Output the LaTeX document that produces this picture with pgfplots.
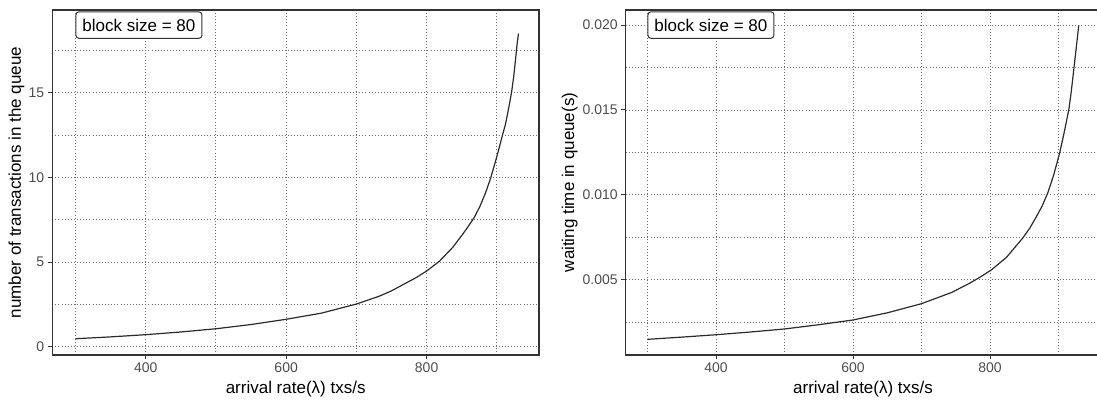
\documentclass[border=0pt]{standalone}
\usepackage{pgfplots}
\pgfplotsset{compat=1.18}
\usepackage{fontspec}
\setmainfont{Liberation Sans}
\definecolor{tickgray}{HTML}{4D4D4D}
\definecolor{framegray}{HTML}{333333}
\definecolor{gridgray}{HTML}{6E6E6E}
\definecolor{curvegray}{HTML}{2B2B2B}

\pgfplotsset{
  ggstyle/.style={
    scale only axis,
    height=345pt,
    axis line style={framegray, line width=1.3pt},
    tick align=outside,
    tick pos=left,
    major tick length=4.5pt,
    minor tick length=0pt,
    tick style={framegray, line width=1pt},
    grid=both,
    major grid style={gridgray, line width=0.9pt, dash pattern=on 0.9pt off 2.2pt},
    minor grid style={gridgray, line width=0.9pt, dash pattern=on 0.9pt off 2.2pt},
    xticklabel style={font=\fontsize{14}{14}\selectfont, text=tickgray},
    yticklabel style={font=\fontsize{14}{14}\selectfont, text=tickgray},
    /pgf/number format/assume math mode=true,
    every axis x label/.style={at={(rel axis cs:0.5,0)}, anchor=center, yshift=-34pt, font=\fontsize{17}{17}\selectfont},
    xtick={400,600,800},
    minor xtick={300,500,700,900},
    xlabel={arrival rate(λ) txs/s},
  },
}
\tikzset{
  boxlabel/.style={draw=framegray, line width=1pt, rounded corners=3pt, fill=white,
    anchor=west, inner xsep=6.5pt, minimum height=26.5pt, font=\fontsize{17}{17}\selectfont},
}

\begin{document}
\begin{tikzpicture}
\path[use as bounding box] (0,0) rectangle (1097pt,403pt);
\begin{scope}
\clip (0,0) rectangle (1097pt,403pt);

% left panel
\begin{axis}[ggstyle,
  at={(52.3pt,48pt)}, anchor=south west,
  width=486.7pt,
  xmin=267, xmax=960,
  ymin=-0.49, ymax=19.89,
  ytick={0,5,10,15},
  minor ytick={2.5,7.5,12.5,17.5},
  every axis y label/.style={at={(rel axis cs:0,0.5)}, xshift=-35.8pt, rotate=90, anchor=center, font=\fontsize{17}{17}\selectfont},
  ylabel={number of transactions in the queue},
]
\addplot[curvegray, line width=1.2pt] coordinates {
(300,0.47)(350,0.58)(400,0.71)(450,0.87)(500,1.06)(550,1.31)(600,1.62)(650,1.98)
(700,2.52)(733,2.99)(750,3.30)(767,3.68)(785,4.08)(800,4.47)(818,5.04)(837,5.86)
(852,6.68)(860,7.15)(868,7.65)(876,8.30)(884,9.10)(891.5,10.0)(898.6,11.03)
(903,11.7)(908,12.5)(912,13.1)(915,13.7)(918,14.35)(921,15.05)(924,15.95)
(926.9,17.1)(929,17.95)(930.8,18.5)
};
\node[boxlabel] at (axis cs:300,19) {block size = 80};
\end{axis}

% right panel
\begin{axis}[ggstyle,
  at={(625.7pt,48pt)}, anchor=south west,
  width=474.7pt,
  xmin=268.2, xmax=961,
  ymin=0.000578, ymax=0.020884,
  ytick={0.005,0.010,0.015,0.020},
  yticklabels={0.005,0.010,0.015,0.020},
  minor ytick={0.0025,0.0075,0.0125,0.0175},
  scaled y ticks=false,
  every axis y label/.style={at={(rel axis cs:0,0.5)}, xshift=-56pt, rotate=90, anchor=center, font=\fontsize{17}{17}\selectfont},
  ylabel={waiting time in queue(s)},
]
\addplot[curvegray, line width=1.2pt] coordinates {
(300,0.00150)(350,0.00163)(400,0.00177)(450,0.00193)(500,0.00211)(550,0.00236)
(600,0.00264)(650,0.00306)(700,0.00360)(744,0.00426)(770,0.00480)(785,0.00515)
(802,0.00559)(824,0.00633)(848,0.00748)(858,0.00805)(868,0.00875)(876,0.00935)
(884.5,0.01015)(893,0.01120)(901.4,0.01245)(908,0.01365)(914.9,0.01502)
(918.5,0.01610)(922.2,0.01740)(926,0.01875)(929.4,0.01998)
};
\node[boxlabel] at (axis cs:300,0.0200) {block size = 80};
\end{axis}
\end{scope}
\end{tikzpicture}
\end{document}
